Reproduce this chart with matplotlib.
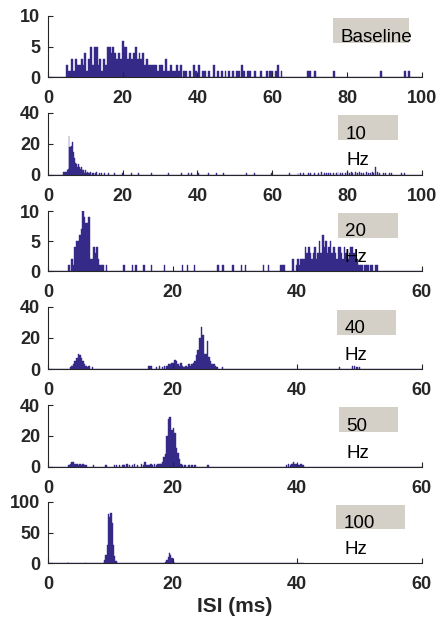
import numpy as np
import matplotlib
matplotlib.use('Agg')
import matplotlib.pyplot as plt
from matplotlib.patches import Rectangle

plt.rcParams['font.family'] = ['Liberation Sans', 'DejaVu Sans']

BAR = '#352a87'
TXT = '#262626'
BOX = '#d4d0c8'

# ---------------- data (ISI histogram counts) ----------------
# Baseline: dense block (0.5 ms bins starting at 5.0 ms) + sparse tail
base_start, base_w = 5.0, 0.5
base_counts = [2, 1, 1, 3, 1, 3, 2, 2, 3, 2, 4, 1, 3, 5, 2, 5, 5, 2, 3, 1,
               3, 2, 5, 5, 4, 5, 4, 3, 4, 3, 6, 5, 5, 3, 4, 3, 4, 5, 3, 4,
               3, 4, 2, 3, 2, 2, 2, 2, 2, 1, 2, 2, 1, 3, 1, 1, 2, 1]
base_tail_t = [34.0, 34.5, 35.0, 35.5, 36.5, 37.0, 38.0, 39.0, 39.5, 40.5, 41.5, 42.0,
               43.0, 44.5, 45.5, 46.5, 47.5, 48.5, 49.5, 50.5, 51.0, 52.0, 52.5, 53.5,
               54.0, 55.5, 57.0, 58.5, 59.5, 60.0, 61.0, 61.5, 62.5, 69.5, 70.0, 71.5,
               76.5, 89.0, 95.5, 96.5]
base_tail_n = [1, 2, 1, 2, 1, 1, 1, 2, 1, 2, 1, 1,
               1, 2, 1, 1, 1, 1, 1, 1, 1, 2, 1, 1,
               1, 1, 1, 1, 1, 1, 1, 2, 1, 1, 1, 1,
               1, 1, 1, 1]

# 10 Hz
hz10_start, hz10_w = 4.125, 0.25
hz10_counts = [2, 2, 2, 2, 3, 4, 25, 18, 18, 19, 21, 15, 11, 8, 7, 5, 7, 5, 4, 5,
               3, 3, 2, 1, 3, 1, 2, 1, 1, 2, 0, 1, 1, 0, 1, 2]
hz10_tail_t = [13.9, 14.4, 15.2, 16.3, 17.9, 19.9, 22.4, 24.1, 27.7, 32.2, 35.7, 37.5,
               38.4, 40.2, 42.9, 45.1, 46.9, 53.1, 55.3, 59.8, 64.7, 66.9, 67.6, 68.4,
               69.6, 70.2, 71.4, 72.4, 73.2, 73.9, 74.6, 75.0, 75.6, 76.3, 77.2, 77.6,
               78.2, 78.9, 79.6, 80.2, 80.7, 81.1, 81.6, 82.2, 82.7, 83.4, 83.9, 84.4,
               85.2, 85.7, 86.3, 86.8, 87.2, 87.7, 88.2, 88.7, 89.7, 90.3, 91.4, 92.0,
               94.6, 95.5]
hz10_tail_n = [1, 1, 1, 1, 1, 1, 1, 1, 1, 1, 1, 1,
               1, 1, 1, 1, 1, 1, 1, 1, 1, 1, 1, 1,
               1, 1, 1, 1, 2, 1, 1, 1, 1, 1, 1, 2,
               1, 1, 1, 2, 1, 2, 1, 2, 1, 2, 1, 1,
               2, 1, 1, 2, 1, 5, 2, 1, 1, 1, 1, 1,
               1, 1]

# 20 Hz
hz20_a_start, hz20_w = 3.375, 0.25
hz20_a_counts = [1, 0, 2, 1, 4, 5, 5, 6, 7, 10, 9, 8, 8, 9, 2, 2, 4, 3, 4, 2, 1, 1, 1, 0, 1]
hz20_mid_t = [12.2, 13.6, 14.1, 15.4, 16.6, 18.7, 21.6, 22.4, 23.5, 27.3, 28.1, 29.7,
              31.1, 31.7, 34.6, 35.4, 37.4, 37.7, 38.0, 39.3, 39.9]
hz20_mid_n = [1, 1, 1, 1, 1, 1, 1, 1, 1, 1, 1, 1,
              1, 1, 1, 1, 1, 1, 1, 2, 1]
hz20_b_start = 40.125
hz20_b_counts = [2, 1, 2, 2, 2, 4, 3, 4, 3, 2, 3, 4, 2, 3, 5, 3, 6, 4, 5, 3,
                 4, 5, 3, 4, 3, 2, 4, 4, 3, 2, 4, 3, 2, 3, 4, 4, 3, 2, 2, 1,
                 1, 1, 0, 1, 1, 1, 0, 1, 1, 0, 1, 1]

# 40 Hz
hz40_w = 0.25
hz40_a_start = 3.625
hz40_a_counts = [1, 2, 3, 5, 7, 10, 9, 7, 5, 3, 2, 1, 2, 0, 1]
hz40_mid_t = [16.2, 16.5, 17.4, 17.9, 18.4, 18.7, 19.0]
hz40_mid_n = [2, 2, 1, 2, 1, 2, 1]
hz40_b_start = 19.125
hz40_b_counts = [2, 3, 3, 4, 4, 6, 5, 3, 2, 4, 2, 1, 2, 1, 3, 2, 3, 4, 5, 9,
                 12, 20, 27, 22, 10, 10, 18, 8, 5, 3, 3, 2, 1]
hz40_tail_t = [28.0, 46.8, 48.9, 49.2, 49.6, 50.0]
hz40_tail_n = [1, 1, 2, 2, 1, 1]

# 50 Hz
hz50_w = 0.25
hz50_a_start = 3.375
hz50_a_counts = [1, 2, 3, 3, 2, 2, 1, 2, 1, 2, 1, 1]
hz50_mid_t = [7.3, 9.3, 10.7, 11.0, 11.5, 12.0, 12.2, 12.7, 13.1, 13.6, 13.9, 14.4,
              15.0, 15.3, 15.6, 15.9, 16.2, 16.5, 16.8, 17.1, 17.4, 17.7, 18.0]
hz50_mid_n = [1, 1, 1, 1, 1, 1, 1, 2, 1, 1, 2, 1,
              2, 1, 3, 1, 1, 2, 1, 2, 1, 2, 2]
hz50_b_start = 18.125
hz50_b_counts = [2, 3, 6, 8, 20, 31, 32, 24, 25, 22, 12, 9, 5, 2, 1]
hz50_tail_t = [22.0, 22.6, 23.1, 23.6, 25.7, 38.3, 38.6, 38.9, 39.2, 39.4, 39.7, 40.0,
               40.3, 40.6, 40.9]
hz50_tail_n = [1, 1, 1, 1, 1, 1, 2, 1, 2, 3, 2, 2,
               1, 2, 1]

# 100 Hz
hz100_w = 0.2
hz100_a_start = 8.9
hz100_a_counts = [1, 5, 14, 30, 80, 76, 82, 65, 30, 12, 4, 1]
hz100_b_start = 18.9
hz100_b_counts = [2, 5, 11, 16, 14, 8, 3, 1]
hz100_tail_t = [3.2, 6.0]
hz100_tail_n = [1, 1]

labels = ['Baseline', '10\nHz', '20\nHz', '40\nHz', '50\nHz', '100\nHz']


def block(start, w, counts):
    return start + w * np.arange(len(counts)), np.asarray(counts), w


panels = [
    dict(segs=[block(base_start, base_w, base_counts),
               (np.array(base_tail_t), np.array(base_tail_n), base_w)],
         xlim=100, ylim=10, yt=[0, 5, 10], line=(0, 100)),
    dict(segs=[block(hz10_start, hz10_w, hz10_counts),
               (np.array(hz10_tail_t), np.array(hz10_tail_n), hz10_w)],
         xlim=100, ylim=40, yt=[0, 20, 40], line=(0, 100)),
    dict(segs=[block(hz20_a_start, hz20_w, hz20_a_counts),
               (np.array(hz20_mid_t), np.array(hz20_mid_n), hz20_w),
               block(hz20_b_start, hz20_w, hz20_b_counts)],
         xlim=60, ylim=10, yt=[0, 5, 10], line=(0, 60)),
    dict(segs=[block(hz40_a_start, hz40_w, hz40_a_counts),
               (np.array(hz40_mid_t), np.array(hz40_mid_n), hz40_w),
               block(hz40_b_start, hz40_w, hz40_b_counts),
               (np.array(hz40_tail_t), np.array(hz40_tail_n), hz40_w)],
         xlim=60, ylim=40, yt=[0, 20, 40], line=(0, 60)),
    dict(segs=[block(hz50_a_start, hz50_w, hz50_a_counts),
               (np.array(hz50_mid_t), np.array(hz50_mid_n), hz50_w),
               block(hz50_b_start, hz50_w, hz50_b_counts),
               (np.array(hz50_tail_t), np.array(hz50_tail_n), hz50_w)],
         xlim=60, ylim=40, yt=[0, 20, 40], line=(0, 60)),
    dict(segs=[block(hz100_a_start, hz100_w, hz100_a_counts),
               block(hz100_b_start, hz100_w, hz100_b_counts),
               (np.array(hz100_tail_t), np.array(hz100_tail_n), hz100_w)],
         xlim=60, ylim=100, yt=[0, 50, 100], line=(0, 41)),
]

# layout in pixels (top, bottom) of each axes
W, H = 438, 627
ax_px = [(16, 77.3), (113, 175), (211, 271), (307, 369), (405, 466.7), (502, 563.3)]
x0_px, x1_px = 48, 421.7
# legend boxes: (x0, x1, y0, y1) and text anchor (x, baseline y)
box_px = [(333, 409, 18, 43), (338, 398, 115, 140), (338, 398, 213, 238),
          (337, 396, 310, 335), (339, 398, 407, 432), (336, 405, 505, 529)]
txt_px = [(341, 41.5), (346, 138.5), (345, 236), (345, 333), (346, 431), (344, 527.5)]

fig = plt.figure(figsize=(W / 100, H / 100), dpi=100)

for i, p in enumerate(panels):
    top, bot = ax_px[i]
    ax = fig.add_axes([x0_px / W, 1 - bot / H, (x1_px - x0_px) / W, (bot - top) / H])
    for t, n, w in p['segs']:
        m = n > 0
        ax.bar(t[m], n[m], width=w, color=BAR, edgecolor=BAR, linewidth=0.3, align='center')
    ax.plot(p['line'], [0, 0], color=BAR, lw=1.0, solid_capstyle='butt', zorder=3)
    ax.set_xlim(0, p['xlim'])
    ax.set_ylim(0, p['ylim'])
    ax.set_xticks(np.arange(0, p['xlim'] + 1, 20))
    ax.set_yticks(p['yt'])
    for s in ['top', 'right']:
        ax.spines[s].set_visible(False)
    for s in ['left', 'bottom']:
        ax.spines[s].set_color(TXT)
        ax.spines[s].set_linewidth(0.8)
    ax.tick_params(axis='both', direction='in', length=3.6, width=0.8, colors=TXT,
                   labelsize=13)
    ax.tick_params(axis='x', pad=9.5)
    ax.tick_params(axis='y', pad=5.5)
    for lb in ax.get_xticklabels() + ax.get_yticklabels():
        lb.set_fontweight('bold')

    bx0, bx1, by0, by1 = box_px[i]
    fig.add_artist(Rectangle((bx0 / W, 1 - by1 / H), (bx1 - bx0) / W, (by1 - by0) / H,
                             transform=fig.transFigure, facecolor=BOX, edgecolor='none',
                             zorder=5))
    tx, ty = txt_px[i]
    fig.text(tx / W, 1 - ty / H, labels[i].split('\n')[0], ha='left', va='baseline',
             fontsize=13.5, color='black', zorder=6)
    if '\n' in labels[i]:
        fig.text(tx / W, 1 - (ty + 26.5) / H, labels[i].split('\n')[1], ha='left',
                 va='baseline', fontsize=13.5, color='black', zorder=6)

fig.text(234.5 / W, 1 - 607 / H, 'ISI (ms)', ha='center', va='center', fontsize=15,
         fontweight='bold', color=TXT)

fig.savefig('out.png', dpi=100)
